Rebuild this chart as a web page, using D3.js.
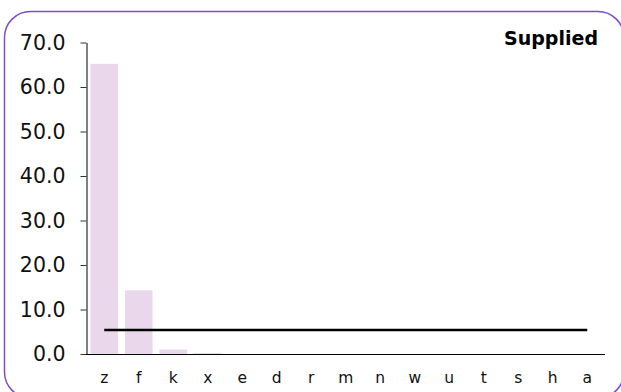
<!DOCTYPE html>
<html><head><meta charset="utf-8">
<script src="https://cdn.jsdelivr.net/npm/d3@7"></script>
<style>body{margin:0;background:#fff}svg{display:block}</style>
</head><body>
<script>
const categories = ["z","f","k","x","e","d","r","m","n","w","u","t","s","h","a"];
const values = [65.2, 14.3, 1.0, 0.2, 0, 0, 0, 0, 0, 0, 0, 0, 0, 0, 0];
const lineValue = [5.4];
const yTicks = [0, 10, 20, 30, 40, 50, 60, 70];
const title = "Supplied";

const W = 621, H = 392;
const svg = d3.select("body").append("svg").attr("width", W).attr("height", H);
svg.append("rect").attr("x", 4.5).attr("y", 11.5).attr("width", 619.5).attr("height", 386.5)
  .attr("rx", 26).attr("fill", "#fff").attr("stroke", "#7e4fbf").attr("stroke-width", 1.5);

const x = d3.scaleBand().domain(categories).range([87, 604.5]).paddingInner(0.2).paddingOuter(0.1);
const y = d3.scaleLinear().domain([0, 70]).range([354, 42.5]);

svg.append("g").selectAll("rect").data(categories).join("rect")
  .attr("x", d => x(d)).attr("width", x.bandwidth())
  .attr("y", (d,i) => y(values[i])).attr("height", (d,i) => y(0) - y(values[i]))
  .attr("fill", "#ead7ec");

const ya = svg.append("g").attr("transform", "translate(86.5,0)")
  .call(d3.axisLeft(y).tickValues(yTicks).tickFormat(d3.format(".1f")).tickSize(6).tickSizeOuter(0));
ya.select(".domain").attr("stroke", "#000");
ya.selectAll(".tick line").attr("stroke", "#333");
ya.selectAll("text").attr("font-family", "DejaVu Sans, Verdana, sans-serif").attr("font-size", 20.5).attr("fill", "#111").attr("x", -21);

const xa = svg.append("g").attr("transform", "translate(0,354.5)")
  .call(d3.axisBottom(x).tickSize(0).tickSizeOuter(0));
xa.select(".domain").attr("stroke", "#000").attr("d", "M86,0H605");
xa.selectAll("text").attr("font-family", "DejaVu Sans, Verdana, sans-serif").attr("font-size", 15.5).attr("fill", "#111").attr("dy", "0").attr("y", 28.5);

const mid = d => x(d) + x.bandwidth()/2;
svg.append("line").attr("x1", mid(categories[0])).attr("x2", mid(categories[categories.length-1]))
  .attr("y1", y(lineValue[0])).attr("y2", y(lineValue[0])).attr("stroke", "#000").attr("stroke-width", 2.5);

svg.append("text").attr("x", 598).attr("y", 45).attr("text-anchor", "end")
  .attr("font-family", "DejaVu Sans, Verdana, sans-serif").attr("font-weight", "bold").attr("font-size", 19)
  .attr("fill", "#000").text(title);
</script>
</body></html>
